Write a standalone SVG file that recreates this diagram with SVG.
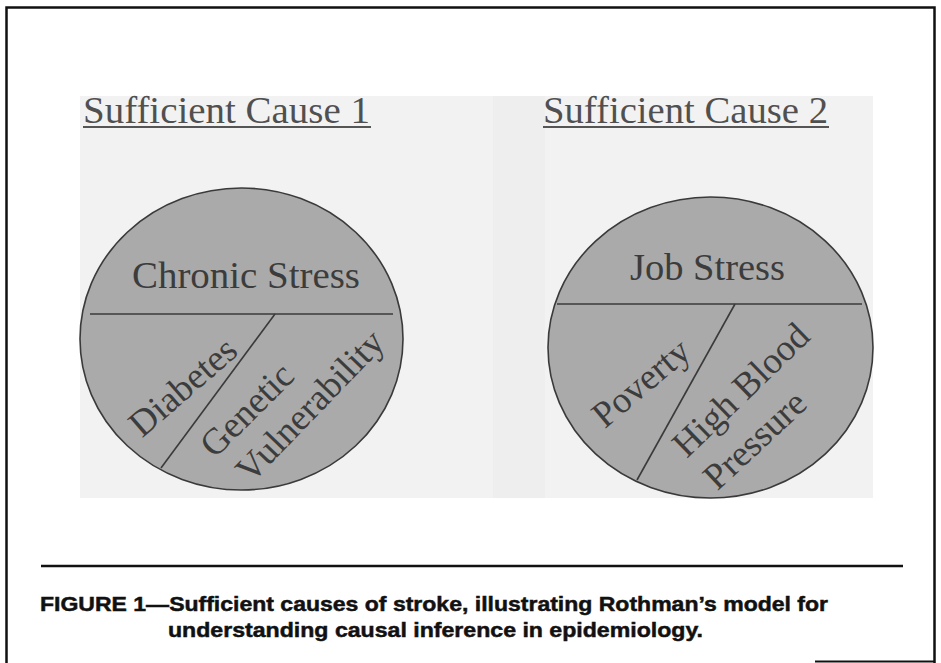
<svg xmlns="http://www.w3.org/2000/svg" width="941" height="663" viewBox="0 0 941 663">
<style>
.title{font-family:"Liberation Serif","Times New Roman",serif;font-size:38px;fill:#505050}
.lbl{font-family:"Liberation Serif","Times New Roman",serif;font-size:37px;fill:#3c3c3c}
.pie{fill:#aaaaaa;stroke:#3a3a3a;stroke-width:1.6}
.div{stroke:#3a3a3a;stroke-width:1.6;fill:none}
.cap{font-family:"Liberation Sans",Arial,sans-serif;font-weight:bold;font-size:21px;fill:#111;stroke:#111;stroke-width:0.5}
</style>
<rect x="0" y="0" width="941" height="663" fill="#ffffff"/>
<rect x="6.5" y="7.5" width="928" height="660" fill="none" stroke="#111" stroke-width="2.5"/>
<line x1="815" y1="661.5" x2="935" y2="661.5" stroke="#111" stroke-width="2"/>
<g id="panels">
<rect x="80" y="96" width="793" height="402" fill="#f2f2f2"/>
<rect x="493" y="96" width="52" height="402" fill="#eeeeee"/>
</g>
<g id="cause1">
<text class="title" x="83" y="123" textLength="287" lengthAdjust="spacingAndGlyphs">Sufficient Cause 1</text>
<line x1="83" y1="127" x2="371" y2="127" stroke="#555" stroke-width="1.8"/>
<ellipse class="pie" cx="241.5" cy="339" rx="161.5" ry="151"/>
<line class="div" x1="90" y1="314" x2="393" y2="314"/>
<line class="div" x1="275" y1="314" x2="161" y2="468"/>
<text class="lbl" x="132" y="288" textLength="228" lengthAdjust="spacingAndGlyphs">Chronic Stress</text>
<g transform="translate(183,387) rotate(-41)"><text class="lbl" x="0" y="12" text-anchor="middle">Diabetes</text></g>
<g transform="translate(247,410) rotate(-45)"><text class="lbl" x="0" y="12" text-anchor="middle">Genetic</text></g>
<g transform="translate(310,406) rotate(-46)"><text class="lbl" x="0" y="12" text-anchor="middle">Vulnerability</text></g>
</g>
<g id="cause2">
<text class="title" x="543" y="123" textLength="285" lengthAdjust="spacingAndGlyphs">Sufficient Cause 2</text>
<line x1="543" y1="127" x2="829" y2="127" stroke="#555" stroke-width="1.8"/>
<ellipse class="pie" cx="710.5" cy="347.5" rx="162.5" ry="150.5"/>
<line class="div" x1="557" y1="304" x2="862" y2="304"/>
<line class="div" x1="735" y1="304" x2="637" y2="480"/>
<text class="lbl" x="630" y="280" textLength="155" lengthAdjust="spacingAndGlyphs">Job Stress</text>
<g transform="translate(641,383) rotate(-40)"><text class="lbl" x="0" y="12" text-anchor="middle">Poverty</text></g>
<g transform="translate(741,390) rotate(-44)"><text class="lbl" x="0" y="12" text-anchor="middle">High Blood</text></g>
<g transform="translate(755,440) rotate(-43)"><text class="lbl" x="0" y="12" text-anchor="middle">Pressure</text></g>
</g>
<g id="caption">
<line x1="41" y1="566" x2="903" y2="566" stroke="#111" stroke-width="2.5"/>
<text class="cap" x="40" y="611" textLength="788" lengthAdjust="spacingAndGlyphs">FIGURE 1—Sufficient causes of stroke, illustrating Rothman’s model for</text>
<text class="cap" x="168" y="637" textLength="535" lengthAdjust="spacingAndGlyphs">understanding causal inference in epidemiology.</text>
</g>
</svg>
